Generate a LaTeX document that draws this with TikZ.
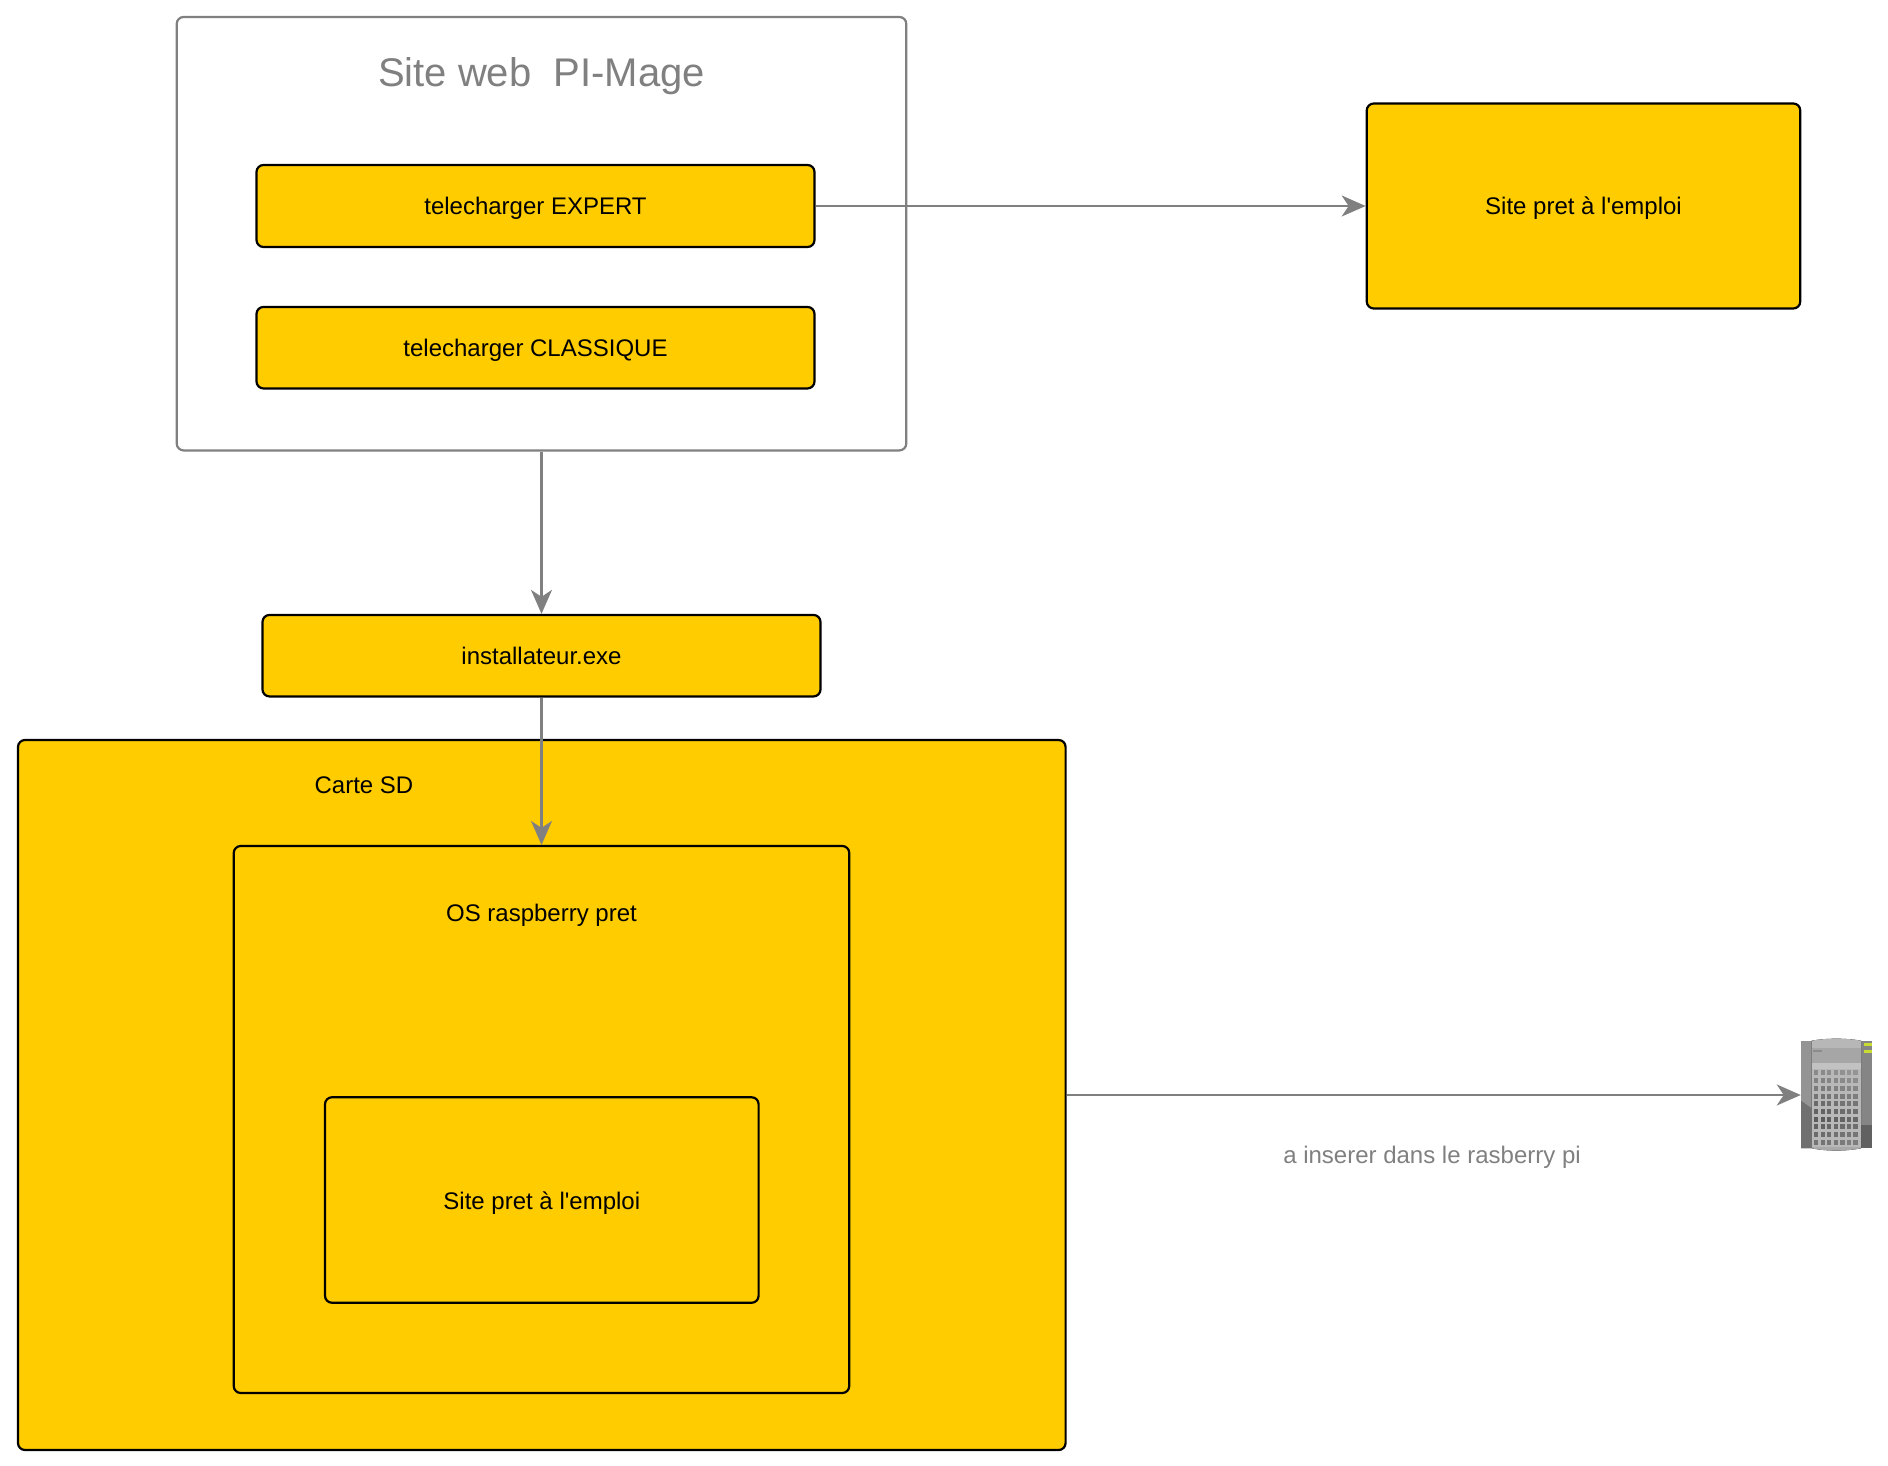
\documentclass[tikz,border=0pt]{standalone}
\usepackage{fontspec}
\setmainfont[Ligatures=TeXOff]{Liberation Sans}
\usetikzlibrary{arrows.meta}
\definecolor{boxfill}{HTML}{FFCC00}
\definecolor{linegray}{HTML}{808080}
\definecolor{ledgreen}{HTML}{C8DC32}
\tikzset{
  textline/.style={text height=23pt,text depth=5pt,font=\fontsize{24}{28}\selectfont},
  basebox/.style={draw=black,fill=boxfill,line width=2.2pt,rounded corners=7pt,inner sep=0pt,align=center,textline},
  frame/.style={draw=linegray,fill=white,line width=2.2pt,rounded corners=7pt,inner sep=0pt},
  caption/.style={inner sep=0pt,textline},
  link/.style={draw=linegray,line width=2.2pt,-{Stealth[length=24pt,width=21pt,inset=7pt]}},
}
\begin{document}
\begin{tikzpicture}[x=1pt,y=-1pt]
\useasboundingbox (0,0) rectangle (1888,1466);
% containers and boxes
\node[frame,minimum width=729.6pt,minimum height=433.5pt] (site) at (541.5,233.7) {};
\node[inner sep=0pt,text=linegray,font=\fontsize{40}{46}\selectfont,text height=37pt,text depth=10pt] (title) at (541.5,73) {Site web\ \ PI-Mage};
\node[basebox,minimum width=558pt,minimum height=82pt] (expert) at (535.5,206) {telecharger EXPERT};
\node[basebox,minimum width=558pt,minimum height=81.5pt] (classic) at (535.5,347.7) {telecharger CLASSIQUE};
\node[basebox,minimum width=433.5pt,minimum height=205pt] (ready) at (1583.5,206) {Site pret à l'emploi};
\node[basebox,minimum width=558pt,minimum height=81.5pt] (inst) at (541.5,655.7) {installateur.exe};
\node[basebox,minimum width=1047.6pt,minimum height=710pt] (sd) at (541.8,1095) {};
\node[caption] (sdlabel) at (364,784) {Carte SD};
\node[basebox,minimum width=615.5pt,minimum height=547pt] (os) at (541.5,1119.5) {};
\node[caption] (oslabel) at (541.5,912) {OS raspberry pret};
\node[basebox,minimum width=433.6pt,minimum height=205.5pt] (inner) at (541.8,1200) {Site pret à l'emploi};
% server icon
\node[inner sep=0pt,minimum width=70.7pt,minimum height=112pt] (server) at (1836.3,1095) {};
\begin{scope}[shift={(1760,1010)},x=0.3333pt,y=-0.3333pt]
  \fill[white!58!black] (123,92) rectangle (155,415);
  \fill[white!44!black] (123,272) -- (155,295) -- (155,415) -- (123,415) -- cycle;
  \fill[white!52!black] (303,92) rectangle (335,345);
  \fill[white!38!black] (303,345) rectangle (335,415);
  \fill[top color=white!72!black,bottom color=white!66!black] (155,92) .. controls (200,84) and (258,84) .. (303,92) -- (303,415) .. controls (258,424) and (200,424) .. (155,415) -- cycle;
  \fill[white!65!black] (155,115) rectangle (303,160);
  \fill[white!76!black] (155,160) rectangle (303,178);
  \fill[white!55!black] (160,120) rectangle (185,125);
  \fill[ledgreen] (313,100) rectangle (335,108);
  \fill[ledgreen] (313,120) rectangle (335,130);
  \fill[white!72!black] (155,178) rectangle (303,410);
  \foreach \c in {0,...,6} \foreach \r in {0,...,9} {
    \pgfmathtruncatemacro{\shade}{36+0.8*\c+3*abs(\r-6)}
    \fill[white!\shade!black] ({162+19.7*\c},{181+23.2*\r}) rectangle ++(13,15);
  }
\end{scope}
% connectors
\draw[link] (site.south) -- (inst.north);
\draw[link] (inst.south) -- (os.north);
\draw[link] (expert.east) -- (ready.west);
\draw[link] (sd.east) -- (server.west);
\node[caption,text=linegray] (note) at (1432,1154.5) {a inserer dans le rasberry pi};
\end{tikzpicture}
\end{document}
